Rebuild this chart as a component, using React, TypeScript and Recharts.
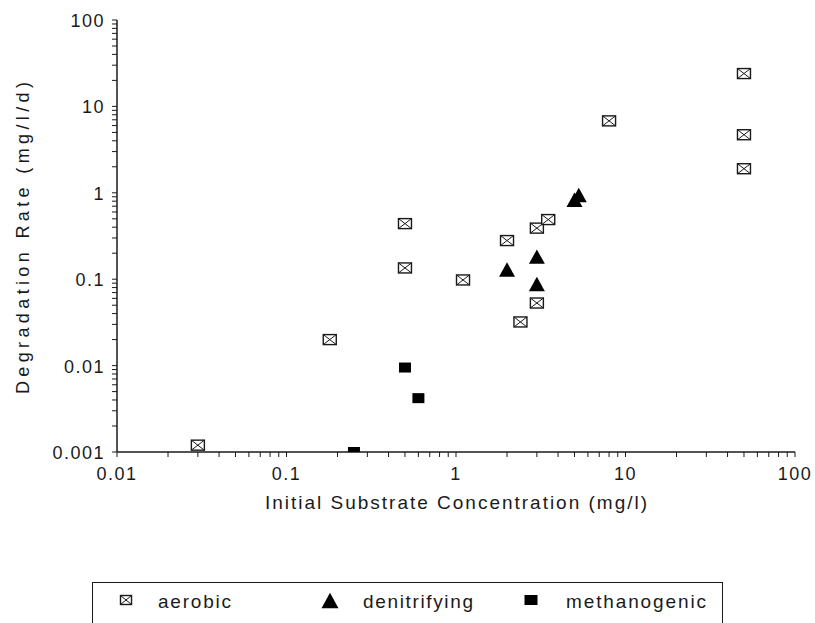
import React from 'react';
import { ScatterChart, Scatter, XAxis, YAxis } from 'recharts';

// aerobic (box with cross)
const aerobicConc = [0.03, 0.18, 0.5, 0.5, 1.1, 2, 3, 3.5, 3, 2.4, 8, 50, 50, 50];
const aerobicRate = [0.0012, 0.02, 0.44, 0.135, 0.098, 0.28, 0.39, 0.49, 0.053, 0.032, 6.8, 24, 4.7, 1.9];

// denitrifying (filled triangle)
const denitConc = [2, 3, 3, 5, 5.3];
const denitRate = [0.128, 0.18, 0.087, 0.82, 0.93];

// methanogenic (filled square)
const methConc = [0.5, 0.6, 0.25];
const methRate = [0.0095, 0.0042, 0.001];

const xMajor = [0.01, 0.1, 1, 10, 100];
const yMajor = [0.001, 0.01, 0.1, 1, 10, 100];
const minorSteps = [1, 2, 3, 4, 5, 6, 7, 8, 9];

const withMinors = (majors: number[]) => {
  const out: number[] = [];
  majors.forEach((m, i) => {
    if (i === majors.length - 1) out.push(m);
    else minorSteps.forEach(s => out.push(+(m * s).toPrecision(6)));
  });
  return out;
};

const xTicks = withMinors(xMajor);
const yTicks = withMinors(yMajor);

const toPoints = (xs: number[], ys: number[]) => xs.map((x, i) => ({ x, y: ys[i] }));

const FONT = '"Liberation Sans", Arial, sans-serif';
const INK = '#1a1a1a';

const isMajor = (v: number) => {
  const l = Math.log10(v);
  return Math.abs(l - Math.round(l)) < 1e-6;
};

const XTick = (props: any) => {
  const { x, y, payload } = props;
  const v = payload.value;
  return (
    <g>
      <line x1={x} x2={x} y1={y} y2={y + 5} stroke={INK} strokeWidth={1} />
      {isMajor(v) && (
        <text x={x} y={y + 28} textAnchor="middle" fontFamily={FONT} fontSize={18} letterSpacing={1.5} fill={INK}>
          {String(v)}
        </text>
      )}
    </g>
  );
};

const YTick = (props: any) => {
  const { x, y, payload } = props;
  const v = payload.value;
  return (
    <g>
      <line x1={x - 5} x2={x} y1={y} y2={y} stroke={INK} strokeWidth={1} />
      {isMajor(v) && (
        <text x={x - 12} y={y + 7} textAnchor="end" fontFamily={FONT} fontSize={18} letterSpacing={1.5} fill={INK}>
          {String(v)}
        </text>
      )}
    </g>
  );
};

const XTitle = (props: any) => {
  const vb = props.viewBox || {};
  const cx = vb.x + vb.width / 2;
  return (
    <text x={cx} y={vb.y + 57} textAnchor="middle" fontFamily={FONT} fontSize={19} fill={INK}
      textLength={382} lengthAdjust="spacing">
      Initial Substrate Concentration (mg/l)
    </text>
  );
};

const YTitle = () => (
  <text x={0} y={0} transform="translate(29, 238) rotate(-90)" textAnchor="middle" fontFamily={FONT}
    fontSize={18} fill={INK} textLength={312} lengthAdjust="spacing">
    Degradation Rate (mg/l/d)
  </text>
);

const CrossBox = ({ cx, cy, w = 13, h = 10 }: any) => (
  <g>
    <rect x={cx - w / 2} y={cy - h / 2} width={w} height={h} fill="#fff" stroke={INK} strokeWidth={1.4} />
    <line x1={cx - w / 2} y1={cy - h / 2} x2={cx + w / 2} y2={cy + h / 2} stroke={INK} strokeWidth={1} />
    <line x1={cx - w / 2} y1={cy + h / 2} x2={cx + w / 2} y2={cy - h / 2} stroke={INK} strokeWidth={1} />
  </g>
);

const Triangle = ({ cx, cy, s = 16 }: any) => (
  <polygon points={`${cx - s / 2},${cy + s * 0.42} ${cx + s / 2},${cy + s * 0.42} ${cx},${cy - s * 0.48}`} fill="#000" />
);

const FilledBox = ({ cx, cy, w = 12, h = 10 }: any) => (
  <rect x={cx - w / 2} y={cy - h / 2} width={w} height={h} fill="#000" />
);

const legendItems = [
  { name: 'aerobic', sym: 'cross', symX: 33, textX: 65, textW: 73 },
  { name: 'denitrifying', sym: 'tri', symX: 237, textX: 270, textW: 110 },
  { name: 'methanogenic', sym: 'box', symX: 438, textX: 473, textW: 140 },
];

const LegendBox = () => (
  <div
    style={{
      position: 'absolute',
      left: 92,
      top: 582,
      width: 631,
      height: 60,
      border: `1px solid ${INK}`,
      boxSizing: 'border-box',
      background: '#fff',
    }}
  >
    <svg width={629} height={58} style={{ position: 'absolute', left: 0, top: 0 }}>
      {legendItems.map(it => (
        <g key={it.name}>
          {it.sym === 'cross' && <CrossBox cx={it.symX} cy={17} w={11} h={9} />}
          {it.sym === 'tri' && <Triangle cx={it.symX} cy={18} s={17} />}
          {it.sym === 'box' && <FilledBox cx={it.symX} cy={17} w={13} h={10} />}
          <text x={it.textX} y={25} fontFamily={FONT} fontSize={19} fill={INK}
            textLength={it.textW} lengthAdjust="spacing">
            {it.name}
          </text>
        </g>
      ))}
    </svg>
  </div>
);

export default function App() {
  return (
    <div style={{ position: 'absolute', left: 0, top: 0, width: 815, height: 623, background: '#fff', overflow: 'hidden' }}>
      <ScatterChart width={815} height={623} margin={{ top: 20, right: 20, bottom: 0, left: 0 }}>
        <XAxis
          xAxisId="main"
          type="number"
          dataKey="x"
          scale="log"
          domain={[0.01, 100]}
          allowDataOverflow
          ticks={xTicks}
          interval={0}
          tickSize={0}
          tickMargin={0}
          tick={<XTick />}
          tickLine={false}
          axisLine={{ stroke: INK, strokeWidth: 1.5 }}
          height={171}
          label={<XTitle />}
        />
        <XAxis
          xAxisId="top"
          orientation="top"
          type="number"
          dataKey="x"
          scale="log"
          domain={[0.01, 100]}
          allowDataOverflow
          tick={false}
          tickLine={false}
          axisLine={{ stroke: INK, strokeWidth: 1.5 }}
          height={0}
        />
        <YAxis
          yAxisId="main"
          type="number"
          dataKey="y"
          scale="log"
          domain={[0.001, 100]}
          allowDataOverflow
          ticks={yTicks}
          interval={0}
          tickSize={0}
          tickMargin={0}
          tick={<YTick />}
          tickLine={false}
          axisLine={{ stroke: INK, strokeWidth: 1.5 }}
          width={117}
          label={<YTitle />}
        />
        <YAxis
          yAxisId="right"
          orientation="right"
          type="number"
          dataKey="y"
          scale="log"
          domain={[0.001, 100]}
          allowDataOverflow
          tick={false}
          tickLine={false}
          axisLine={{ stroke: '#9a9a9a', strokeWidth: 1, strokeDasharray: '6 2' }}
          width={0}
        />
        <Scatter
          name="aerobic"
          xAxisId="main"
          yAxisId="main"
          data={toPoints(aerobicConc, aerobicRate)}
          shape={(p: any) => <CrossBox cx={p.cx} cy={p.cy} />}
          isAnimationActive={false}
        />
        <Scatter
          name="denitrifying"
          xAxisId="main"
          yAxisId="main"
          data={toPoints(denitConc, denitRate)}
          shape={(p: any) => <Triangle cx={p.cx} cy={p.cy} />}
          isAnimationActive={false}
        />
        <Scatter
          name="methanogenic"
          xAxisId="main"
          yAxisId="main"
          data={toPoints(methConc, methRate)}
          shape={(p: any) => <FilledBox cx={p.cx} cy={p.cy} />}
          isAnimationActive={false}
        />
      </ScatterChart>
      <LegendBox />
    </div>
  );
}
